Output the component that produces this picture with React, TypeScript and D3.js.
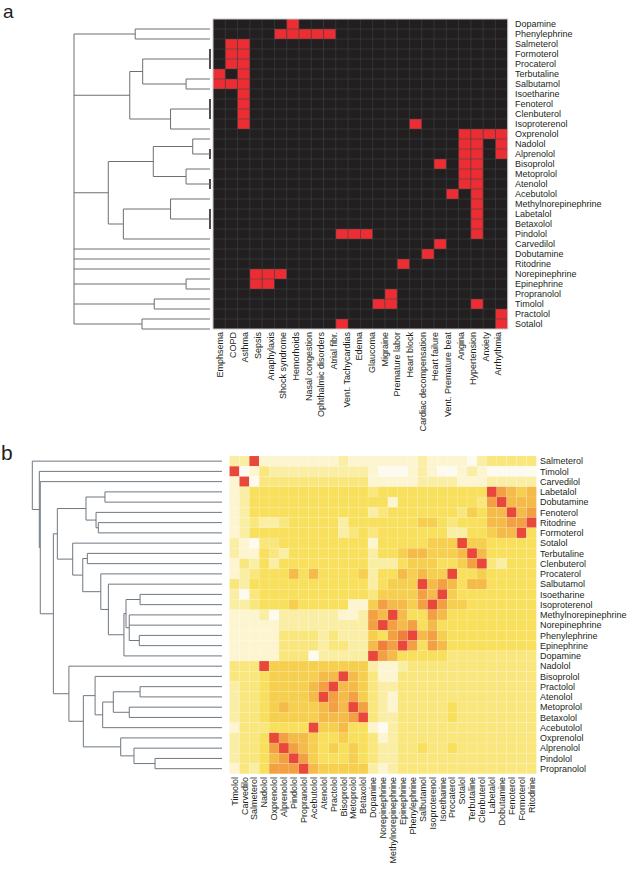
import React from 'react';
import * as d3 from 'd3';

// ---------- Panel a data ----------
const drugsA = ["Dopamine","Phenylephrine","Salmeterol","Formoterol","Procaterol","Terbutaline","Salbutamol","Isoetharine","Fenoterol","Clenbuterol","Isoproterenol","Oxprenolol","Nadolol","Alprenolol","Bisoprolol","Metoprolol","Atenolol","Acebutolol","Methylnorepinephrine","Labetalol","Betaxolol","Pindolol","Carvedilol","Dobutamine","Ritodrine","Norepinephrine","Epinephrine","Propranolol","Timolol","Practolol","Sotalol"];
const diseases = ["Emphsema","COPD","Asthma","Sepsis","Anaphylaxis","Shock syndrome","Hemorhoids","Nasal congestion","Ophthalmic disorders","Atrial fibr.","Vent. Tachycardias","Edema","Glaucoma","Migraine","Premature labor","Heart block","Cardiac decompensation","Heart failure","Vent. Premature beat","Angina","Hypertension","Anxiety","Arrhythmia"];
const gridColumnsA = 24;
// indication cells (grid column indices) per drug row
const indications: number[][] = [
  [6],[5,6,7,8,9],[1,2],[1,2],[1,2],[0,2],[0,1,2],[2],[2],[2],[2,16],
  [20,21,22,23],[20,21,23],[20,21,23],[18,20,21],[20,21],[20,21],[19,21],[21],[21],[21],[10,11,12,21],
  [18],[17],[15],[3,4,5],[3,4],[14],[13,14,21],[23],[10,23]
];

// ---------- Panel b data ----------
const rowDrugsB = ["Salmeterol","Timolol","Carvedilol","Labetalol","Dobutamine","Fenoterol","Ritodrine","Formoterol","Sotalol","Terbutaline","Clenbuterol","Procaterol","Salbutamol","Isoetharine","Isoproterenol","Methylnorepinephrine","Norepinephrine","Phenylephrine","Epinephrine","Dopamine","Nadolol","Bisoprolol","Practolol","Atenolol","Metoprolol","Betaxolol","Acebutolol","Oxprenolol","Alprenolol","Pindolol","Propranolol"];
const colDrugsB = ["Timolol","Carvedilo","Salmeterol","Nadolol","Oxprenolol","Alprenolol","Pindolol","Propranolol","Acebutolol","Atenolol","Practolol","Bisoprolol","Metoprolol","Betaxolol","Dopamine","Norepinephrine","Methylnorepinephrine","Epinephrine","Phenylephrine","Salbutamol","Isoproterenol","Isoetharine","Procaterol","Sotalol","Terbutaline","Clenbuterol","Labetalol","Dobutamine","Fenoterol","Formoterol","Ritodrine"];
// similarity level 0 (none) .. 9 (identical)
const similarity: number[][] = [
  [2,2,9,1,1,1,1,1,1,1,1,2,1,1, 1,1,1,1,1,2,1,1,1,1,0,2,3,3,3,3,3],
  [9,0,1,3,2,2,2,2,2,2,2,2,2,2, 1,0,0,0,1,2,1,0,0,1,2,1,0,0,0,0,0],
  [1,9,0,3,3,3,3,3,3,3,3,3,3,3, 1,1,1,1,1,2,2,2,2,1,1,1,2,2,2,2,2],
  [1,2,4,4,4,4,4,4,4,4,4,4,4,4, 3,4,4,4,4,4,4,4,4,4,4,4,9,7,6,5,6],
  [1,2,4,4,4,4,4,4,4,4,4,4,4,4, 4,4,1,4,4,4,4,4,4,4,4,3,7,9,6,6,6],
  [1,2,4,4,4,4,4,4,4,4,4,4,4,4, 2,3,4,4,4,4,4,4,4,3,5,4,6,6,9,6,7],
  [1,2,3,2,2,3,4,4,4,4,4,2,4,4, 4,4,4,4,4,5,5,4,3,4,4,4,6,6,7,7,9],
  [1,2,4,4,4,4,4,4,4,4,4,2,3,4, 3,4,4,4,4,4,4,4,2,2,4,4,5,6,6,9,4],
  [2,1,0,3,3,4,4,4,4,4,4,4,4,4, 1,4,4,4,4,4,5,5,5,9,5,5,4,4,4,4,4],
  [2,1,1,4,3,2,4,4,4,4,4,4,4,4, 2,4,4,5,6,6,5,5,5,6,9,6,4,4,4,4,4],
  [1,3,2,4,2,4,4,4,4,4,4,4,4,4, 2,2,2,4,5,5,5,4,4,5,7,9,3,2,4,4,4],
  [1,2,3,4,4,4,6,4,6,4,4,4,4,5, 2,4,4,6,5,6,5,5,9,4,4,5,4,4,4,4,4],
  [3,2,4,4,4,4,4,4,4,4,4,4,4,4, 2,4,5,5,5,9,6,7,6,4,6,6,4,4,4,4,4],
  [2,0,3,4,4,4,4,4,4,4,4,4,4,4, 3,5,5,5,5,7,6,9,5,4,4,4,4,4,4,4,4],
  [2,2,3,4,4,4,5,4,4,4,4,4,1,1, 5,7,6,6,5,7,9,7,5,5,4,4,4,4,4,4,4],
  [1,1,1,2,0,2,2,2,2,2,2,1,1,2, 7,6,9,6,4,4,7,6,4,4,4,4,4,4,4,4,4],
  [1,1,1,1,1,2,2,2,2,2,2,2,2,2, 7,9,7,6,7,4,6,4,4,4,4,4,4,4,4,4,4],
  [1,1,1,1,1,3,3,3,3,2,3,2,2,2, 5,4,7,8,9,6,7,5,4,4,4,4,4,4,4,4,4],
  [1,1,1,1,1,3,3,3,3,2,3,3,2,2, 6,8,7,9,7,4,7,6,4,4,4,4,4,4,4,4,4],
  [1,1,1,1,1,3,3,3,0,2,2,2,2,2, 9,7,6,4,4,4,4,4,3,3,3,3,3,3,3,3,3],
  [3,3,3,9,5,5,5,5,5,5,5,5,5,5, 2,1,1,2,3,3,3,3,3,3,3,3,3,3,3,3,3],
  [3,3,3,4,5,5,5,5,5,6,6,9,6,5, 3,1,1,3,3,3,3,3,3,3,3,3,3,3,3,3,3],
  [2,3,3,4,5,5,5,5,6,7,9,6,6,5, 3,2,2,3,3,3,3,3,3,3,3,3,3,3,3,3,3],
  [2,3,3,4,5,5,5,5,6,9,7,6,7,5, 3,2,1,3,3,3,3,3,3,3,3,3,3,3,3,3,3],
  [2,3,3,4,5,6,5,5,5,6,7,6,9,7, 3,2,1,3,3,3,3,3,4,3,3,3,3,3,3,3,3],
  [2,3,3,4,5,5,5,5,5,6,6,6,7,9, 3,2,2,3,3,3,3,3,4,3,3,3,3,3,3,3,3],
  [1,3,3,3,4,4,4,4,9,5,5,6,4,4, 1,0,2,3,3,3,3,3,3,3,3,3,3,3,3,3,3],
  [2,3,3,4,9,7,6,6,5,4,4,5,4,4, 3,1,2,3,3,3,3,3,3,3,3,3,3,3,3,3,3],
  [2,3,3,4,7,9,7,6,5,4,5,4,5,4, 3,2,2,3,3,4,3,3,4,3,3,3,3,3,3,3,3],
  [2,3,3,4,6,7,9,7,5,4,4,4,5,4, 3,2,2,3,3,3,3,3,3,3,3,3,3,3,3,3,3],
  [1,3,2,4,7,7,7,9,6,5,5,5,5,5, 2,1,2,3,3,3,3,3,3,3,3,3,3,3,3,3,3],
];

// ---------- Dendrograms (leaf = row index, node = merge distance) ----------
type TNode = number | { h: number; c: TNode[] };
const nd = (h: number, ...c: TNode[]): TNode => ({ h, c });

const treeA: TNode = nd(1.0,
  nd(0.55, 0, 1),
  nd(0.59, nd(0.495, nd(0, 2, 3, 4), nd(0.176, 5, 6)), nd(0.29, nd(0, 7, 8, 9), 10)),
  nd(0.748,
    nd(0.417, nd(0.127, 11, nd(0, 12, 13)), nd(0.176, 14, nd(0, 15, 16))),
    nd(0.637, nd(0.29, 17, nd(0, 18, 19, 20)), 21)),
  22, 23, 24,
  nd(0.176, 25, 26),
  nd(0.41, 27, 28),
  nd(0.5, 29, 30)
);

const treeB: TNode = nd(1.0, 0,
  nd(0.963, 1,
    nd(0.958, 2,
      nd(0.889,
        nd(0.868,
          nd(0.717, nd(0.617, 3, 4), nd(0.664, 5, nd(0.652, 6, 7))),
          nd(0.787, 8,
            nd(0.734, nd(0.71, 9, 10),
              nd(0.639, 11,
                nd(0.599, 12,
                  nd(0.517,
                    nd(0.506, nd(0.432, 13, 14), nd(0.489, 15, 16, nd(0.436, 17, 18))),
                    19)))))),
        nd(0.807, 20,
          nd(0.731,
            nd(0.669, 21, nd(0.629, nd(0.573, nd(0.432, 22, 23), nd(0.489, 24, 25)), 26)),
            nd(0.534, 27, nd(0.464, 28, nd(0.353, 29, 30)))))))));

interface Seg { x1: number; y1: number; x2: number; y2: number; bar: boolean }
function layoutTree(node: TNode, leafY: (i: number) => number, xs: (h: number) => number, segs: Seg[]): { x: number; y: number } {
  if (typeof node === 'number') return { x: xs(0), y: leafY(node) };
  const kids = node.c.map(k => layoutTree(k, leafY, xs, segs));
  const x = xs(node.h);
  kids.forEach(k => segs.push({ x1: x, y1: k.y, x2: k.x, y2: k.y, bar: false }));
  const y0 = kids[0].y, y1 = kids[kids.length - 1].y;
  segs.push({ x1: x, y1: y0, x2: x, y2: y1, bar: node.h === 0 });
  return { x, y: (y0 + y1) / 2 };
}

const FONT = "'Liberation Sans', Arial, Helvetica, sans-serif";
const palette = ["#fdfbef","#fcf5cf","#faeda4","#f9e77e","#f8e05c","#f6cf4f","#f5bb48","#f2a042","#ee8039","#e8473a"];

export default function App() {
  // ----- panel a scales -----
  const xA = d3.scaleBand<number>().domain(d3.range(gridColumnsA)).range([213, 507.7]);
  const yA = d3.scaleBand<number>().domain(d3.range(drugsA.length)).range([19, 329]);
  const labelXA = d3.scalePoint<string>().domain(diseases).range([220, 498.3]);
  const dxA = d3.scaleLinear().domain([0, 1]).range([210, 74]);
  const segsA: Seg[] = [];
  layoutTree(treeA, i => (yA(i) as number) + yA.bandwidth(), dxA, segsA);

  // ----- panel b scales -----
  const xB = d3.scaleBand<number>().domain(d3.range(colDrugsB.length)).range([229.5, 536.4]);
  const yB = d3.scaleBand<number>().domain(d3.range(rowDrugsB.length)).range([456, 773.8]);
  const dxB = d3.scaleLinear().domain([0, 1]).range([222, 32.3]);
  const color = d3.scaleLinear<string>().domain(d3.range(10)).range(palette).interpolate(d3.interpolateRgb);
  const segsB: Seg[] = [];
  layoutTree(treeB, i => (yB(i) as number) + yB.bandwidth() / 2, dxB, segsB);

  const cwA = xA.bandwidth(), chA = yA.bandwidth();
  const cwB = xB.bandwidth(), chB = yB.bandwidth();
  const fs = 9;

  return (
    <svg width={641} height={876} style={{ position: 'absolute', left: 0, top: 0, background: '#fff' }} fontFamily={FONT}>
      {/* panel letters */}
      <text x={3} y={18} fontSize={19} fill="#231f20">a</text>
      <text x={1} y={460} fontSize={21} fill="#231f20">b</text>

      {/* ===== Panel a ===== */}
      <g>
        {segsA.map((s, i) => (
          <line key={i} x1={s.x1} y1={s.y1} x2={s.x2} y2={s.y2}
            stroke={s.bar ? '#231f20' : '#6f6f6f'} strokeWidth={s.bar ? 1.6 : 1} />
        ))}
        <rect x={213} y={19} width={xA.range()[1] - 213} height={310} fill="#231f20" />
        {indications.map((cols, r) => cols.map(c => (
          <rect key={`${r}-${c}`} x={xA(c)} y={yA(r)} width={cwA} height={chA} fill="#ec2d33" />
        )))}
        {d3.range(1, gridColumnsA).map(c => (
          <line key={'gv' + c} x1={xA(c)} x2={xA(c)} y1={19} y2={329} stroke="#3c4848" strokeWidth={0.7} opacity={0.8} />
        ))}
        {d3.range(1, drugsA.length).map(r => (
          <line key={'gh' + r} x1={213} x2={xA.range()[1]} y1={yA(r)} y2={yA(r)} stroke="#3c4848" strokeWidth={0.7} opacity={0.8} />
        ))}
        <rect x={213} y={19} width={xA.range()[1] - 213} height={310} fill="none" stroke="#c9c9c9" strokeWidth={1} />
        {drugsA.map((d, i) => (
          <text key={d} x={515} y={(yA(i) as number) + chA / 2} dy="0.35em" fontSize={fs} fill="#231f20">{d}</text>
        ))}
        {diseases.map(d => (
          <text key={d} transform={`translate(${labelXA(d)},332) rotate(-90)`} dy="0.35em" textAnchor="end" fontSize={fs} fill="#231f20">{d}</text>
        ))}
      </g>

      {/* ===== Panel b ===== */}
      <g>
        {segsB.map((s, i) => (
          <line key={i} x1={s.x1} y1={s.y1} x2={s.x2} y2={s.y2} stroke="#6e7780" strokeWidth={1} />
        ))}
        {similarity.map((row, r) => row.map((v, c) => (
          <rect key={`${r}-${c}`} x={xB(c)} y={yB(r)} width={cwB} height={chB} fill={color(v)}
            stroke="#ffffff" strokeOpacity={0.18} strokeWidth={0.6} />
        )))}
        {rowDrugsB.map((d, i) => (
          <text key={d} x={540} y={(yB(i) as number) + chB / 2} dy="0.35em" fontSize={fs} fill="#231f20">{d}</text>
        ))}
        {colDrugsB.map((d, i) => (
          <text key={d + i} transform={`translate(${(xB(i) as number) + cwB / 2},777) rotate(-90)`} dy="0.35em" textAnchor="end" fontSize={fs} fill="#231f20">{d}</text>
        ))}
      </g>
    </svg>
  );
}
